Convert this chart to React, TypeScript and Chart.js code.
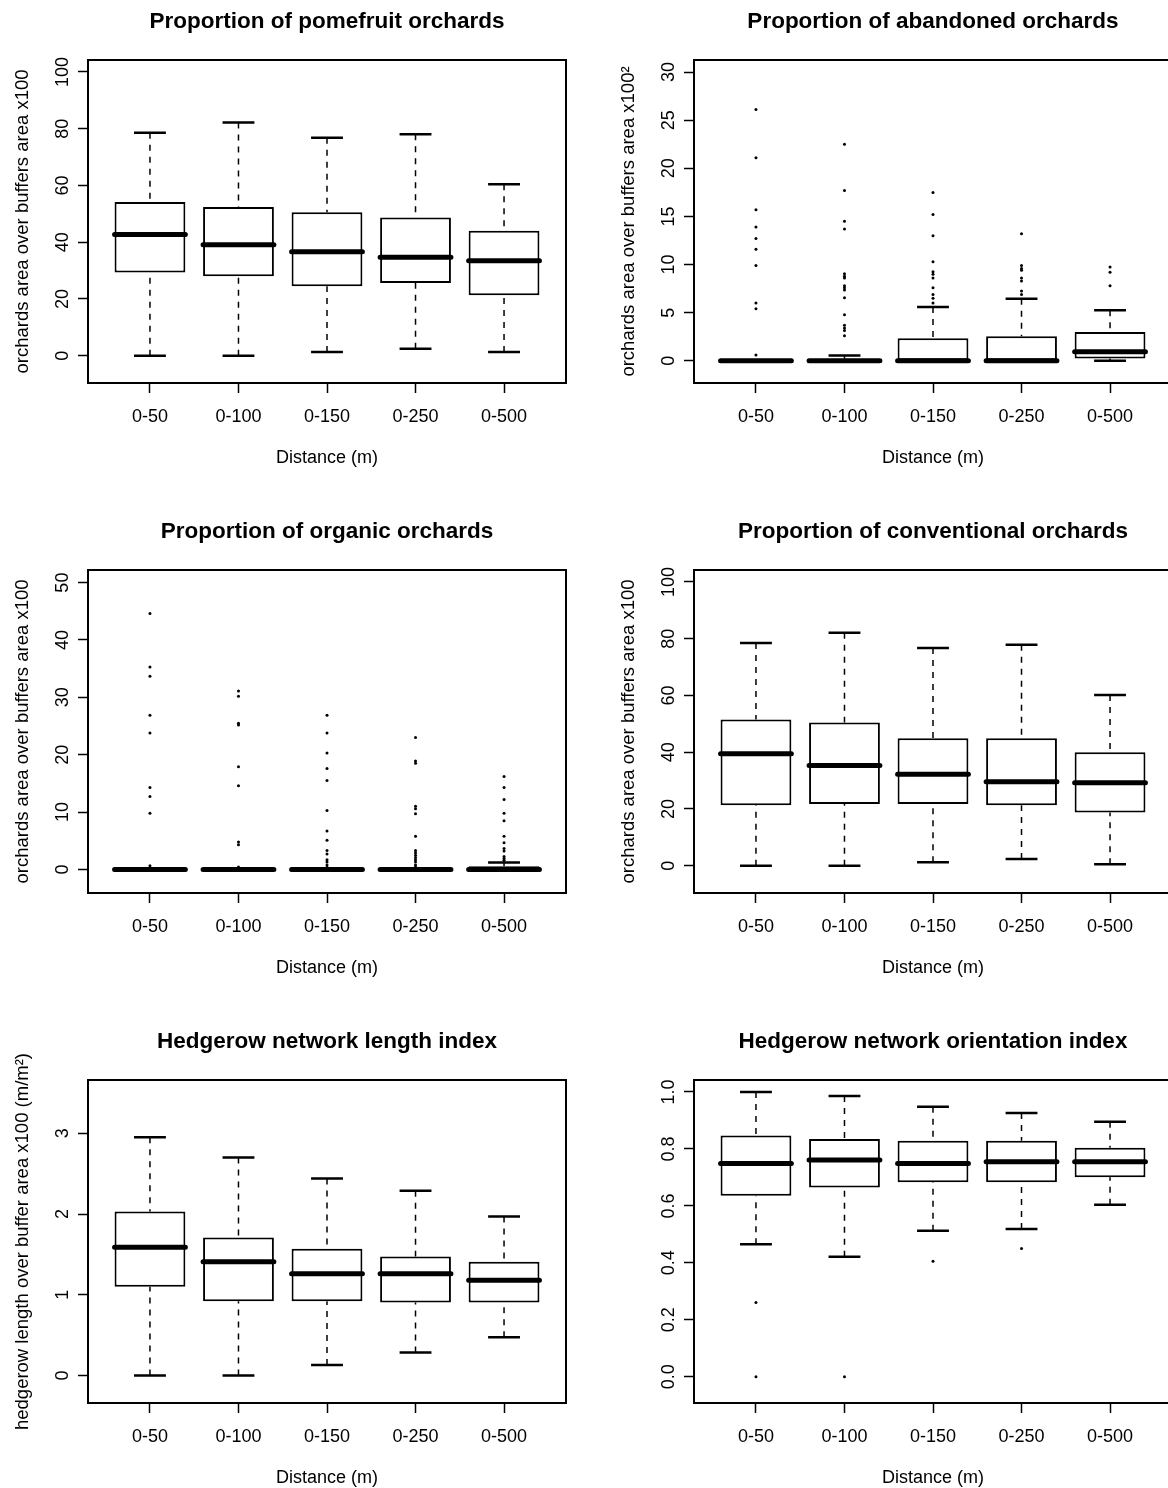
import React, { useEffect, useRef } from 'react';
import { Chart, registerables } from 'chart.js';

Chart.register(...registerables);

const FONT = "'Liberation Sans', Arial, Helvetica, sans-serif";

// ---------- shared categories ----------
const categories = ['0-50', '0-100', '0-150', '0-250', '0-500'];
const positions = [1, 2, 3, 4, 5];
const xAxisTitle = 'Distance (m)';

// ---------- Panel 1: pomefruit ----------
const pomeLow = [0, 0, 1.3, 2.5, 1.3];
const pomeQ1 = [29.3, 28.0, 24.5, 25.6, 21.3];
const pomeMed = [42.7, 39.1, 36.6, 34.7, 33.5];
const pomeQ3 = [54.2, 52.4, 50.6, 48.7, 44.0];
const pomeHigh = [78.6, 82.2, 76.8, 78.0, 60.4];
const pomeOut: number[][] = [[], [], [], [], []];

// ---------- Panel 2: abandoned ----------
const abLow = [0, 0, 0, 0, 0];
const abQ1 = [0, 0, 0, 0, 0.25];
const abMed = [0, 0, 0, 0, 0.95];
const abQ3 = [0, 0, 2.35, 2.55, 3.0];
const abHigh = [0, 0.55, 5.6, 6.45, 5.25];
const abOut: number[][] = [
  [26.1, 21.1, 15.7, 13.9, 12.7, 11.6, 9.9, 6.0, 5.4, 0.6],
  [22.5, 17.7, 14.5, 13.7, 9.05, 8.8, 8.6, 7.8, 7.6, 7.35, 6.55, 4.8, 3.7, 3.4, 3.15, 2.6],
  [17.5, 15.2, 13.0, 10.3, 9.25, 9.0, 8.6, 7.6, 6.9, 6.5, 6.0],
  [13.2, 9.9, 9.6, 9.4, 8.6, 8.3, 7.25, 6.9],
  [9.75, 9.2, 7.8],
];

// ---------- Panel 3: organic ----------
const orgLow = [0, 0, 0, 0, 0];
const orgQ1 = [0, 0, 0, 0, 0];
const orgMed = [0, 0, 0, 0, 0];
const orgQ3 = [0, 0, 0, 0, 0.55];
const orgHigh = [0, 0, 0, 0, 1.2];
const orgOut: number[][] = [
  [44.6, 35.3, 33.7, 26.9, 23.8, 14.3, 12.7, 9.8, 0.65],
  [31.1, 30.2, 25.5, 25.2, 17.9, 14.6, 4.8, 4.3, 0.45],
  [26.9, 23.8, 20.3, 17.6, 15.5, 10.3, 6.7, 5.1, 3.3, 2.7, 1.7, 1.3, 0.8, 0.4],
  [23.0, 18.9, 18.5, 11.0, 10.6, 9.7, 5.8, 3.3, 2.9, 2.5, 2.1, 1.7, 1.3, 0.8, 0.45],
  [16.2, 14.3, 12.2, 9.8, 8.5, 5.8, 4.65, 3.65, 3.2, 2.25, 1.9, 1.6],
];

// ---------- Panel 4: conventional ----------
const convLow = [0, 0, 1.2, 2.35, 0.5];
const convQ1 = [21.3, 21.8, 21.8, 21.3, 18.8];
const convMed = [39.5, 35.3, 32.2, 29.6, 29.2];
const convQ3 = [51.5, 50.5, 44.9, 44.9, 40.0];
const convHigh = [78.5, 82.1, 76.7, 77.9, 60.2];
const convOut: number[][] = [[], [], [], [], []];

// ---------- Panel 5: hedgerow length ----------
const lenLow = [0, 0, 0.13, 0.285, 0.475];
const lenQ1 = [1.1, 0.92, 0.92, 0.905, 0.905];
const lenMed = [1.59, 1.41, 1.26, 1.26, 1.18];
const lenQ3 = [2.03, 1.71, 1.57, 1.475, 1.41];
const lenHigh = [2.95, 2.7, 2.44, 2.29, 1.97];
const lenOut: number[][] = [[], [], [], [], []];

// ---------- Panel 6: hedgerow orientation ----------
const oriLow = [0.465, 0.4215, 0.513, 0.519, 0.604];
const oriQ1 = [0.636, 0.665, 0.683, 0.683, 0.701];
const oriMed = [0.749, 0.761, 0.749, 0.755, 0.755];
const oriQ3 = [0.847, 0.835, 0.829, 0.829, 0.804];
const oriHigh = [1.0, 0.986, 0.948, 0.926, 0.895];
const oriOut: number[][] = [[0.261, 0.0], [0.0], [0.406], [0.45], []];

// ---------- axis tick labels ----------
const ticksPct100 = [0, 20, 40, 60, 80, 100];
const ticksAbandoned = [0, 5, 10, 15, 20, 25, 30];
const ticksOrganic = [0, 10, 20, 30, 40, 50];
const ticksLength = [0, 1, 2, 3];
const ticksOrient = [0, 0.2, 0.4, 0.6, 0.8, 1.0];

type Spec = {
  title: string;
  yTitle: string;
  col: number;
  row: number;
  yMin: number;
  yMax: number;
  yTicks: number[];
  yDecimals: number;
  low: number[];
  q1: number[];
  med: number[];
  q3: number[];
  high: number[];
  outliers: number[][];
};

const specs: Spec[] = [
  { title: 'Proportion of pomefruit orchards', yTitle: 'orchards area over buffers area x100', col: 0, row: 0,
    yMin: -9.6, yMax: 104.2, yTicks: ticksPct100, yDecimals: 0,
    low: pomeLow, q1: pomeQ1, med: pomeMed, q3: pomeQ3, high: pomeHigh, outliers: pomeOut },
  { title: 'Proportion of abandoned orchards', yTitle: 'orchards area over buffers area x100\u00B2', col: 1, row: 0,
    yMin: -2.3, yMax: 31.25, yTicks: ticksAbandoned, yDecimals: 0,
    low: abLow, q1: abQ1, med: abMed, q3: abQ3, high: abHigh, outliers: abOut },
  { title: 'Proportion of organic orchards', yTitle: 'orchards area over buffers area x100', col: 0, row: 1,
    yMin: -4.1, yMax: 52.2, yTicks: ticksOrganic, yDecimals: 0,
    low: orgLow, q1: orgQ1, med: orgMed, q3: orgQ3, high: orgHigh, outliers: orgOut },
  { title: 'Proportion of conventional orchards', yTitle: 'orchards area over buffers area x100', col: 1, row: 1,
    yMin: -9.6, yMax: 104.2, yTicks: ticksPct100, yDecimals: 0,
    low: convLow, q1: convQ1, med: convMed, q3: convQ3, high: convHigh, outliers: convOut },
  { title: 'Hedgerow network length index', yTitle: 'hedgerow length over buffer area x100 (m/m\u00B2)', col: 0, row: 2,
    yMin: -0.34, yMax: 3.66, yTicks: ticksLength, yDecimals: 0,
    low: lenLow, q1: lenQ1, med: lenMed, q3: lenQ3, high: lenHigh, outliers: lenOut },
  { title: 'Hedgerow network orientation index', yTitle: '', col: 1, row: 2,
    yMin: -0.092, yMax: 1.042, yTicks: ticksOrient, yDecimals: 1,
    low: oriLow, q1: oriQ1, med: oriMed, q3: oriQ3, high: oriHigh, outliers: oriOut },
];

// ---------- layout (pixels) ----------
const COL_LEFT = [0, 584];
const CANVAS_W = [584, 600];
const PAD_LEFT = [0, 22];
const PAD_RIGHT = [18, 12];
const ROW_TOP = [0, 510, 1020];
const CANVAS_H = [510, 510, 469];
const PLOT_TOP = 60;
const PLOT_BOTTOM = 383;
const Y_AXIS_W = 88;
const X_AXIS_H = 86;
const Y_LABEL_GAP = 14.5;
const TITLE_SIZE = 22.5;
const TITLE_CENTER = 21.5;
const BOX_HALF = 0.4;
const CAP_HALF = 0.18;

const fmt = (v: number, d: number) => Number(v).toFixed(d);

function yTickPadding(spec: Spec): number {
  const ctx = document.createElement('canvas').getContext('2d');
  if (!ctx) return 0;
  ctx.font = `18px ${FONT}`;
  const widest = Math.max(...spec.yTicks.map((v) => ctx.measureText(fmt(v, spec.yDecimals)).width));
  return Y_LABEL_GAP - widest / 2;
}

const framePlugin = {
  id: 'frame',
  afterDatasetsDraw(chart: any) {
    const { ctx, chartArea: a } = chart;
    ctx.save();
    ctx.strokeStyle = '#000';
    ctx.lineWidth = 2;
    ctx.strokeRect(a.left, a.top, a.right - a.left, a.bottom - a.top);
    ctx.restore();
  },
};

function buildConfig(spec: Spec): any {
  const whiskers = positions.flatMap((x, i) => [
    { x, y: spec.low[i] }, { x, y: spec.q1[i] }, { x, y: null },
    { x, y: spec.high[i] }, { x, y: spec.q3[i] }, { x, y: null },
  ]);
  const caps = positions.flatMap((x, i) => [
    { x: x - CAP_HALF, y: spec.low[i] }, { x: x + CAP_HALF, y: spec.low[i] }, { x, y: null },
    { x: x - CAP_HALF, y: spec.high[i] }, { x: x + CAP_HALF, y: spec.high[i] }, { x, y: null },
  ]);
  const medians = positions.flatMap((x, i) => [
    { x: x - BOX_HALF, y: spec.med[i] }, { x: x + BOX_HALF, y: spec.med[i] }, { x, y: null },
  ]);
  const boxes = positions.map((x, i) => ({ x, y: [spec.q1[i], spec.q3[i]] }));
  const outs = positions.flatMap((x, i) => spec.outliers[i].map((v) => ({ x, y: v })));

  const H = CANVAS_H[spec.row];
  const lineBase = { type: 'line', pointRadius: 0, fill: false, tension: 0, spanGaps: false, borderColor: '#000' };

  const gridOpts = {
    display: true,
    drawOnChartArea: false,
    drawTicks: true,
    tickLength: 10,
    tickWidth: 1.5,
    tickColor: '#000',
    color: '#000',
    offset: false,
  };

  return {
    type: 'bar',
    data: {
      datasets: [
        { ...lineBase, label: 'outliers', type: 'scatter', data: outs, order: 0, showLine: false,
          pointRadius: 1.5, pointBackgroundColor: '#000', pointBorderWidth: 0, pointBorderColor: '#000' },
        { ...lineBase, label: 'median', data: medians, order: 1, borderWidth: 5, borderCapStyle: 'round' },
        { label: 'box', type: 'bar', data: boxes, order: 2, backgroundColor: '#fff', borderColor: '#000',
          borderWidth: 2, borderSkipped: false, barPercentage: 0.8, categoryPercentage: 1.0 },
        { ...lineBase, label: 'caps', data: caps, order: 3, borderWidth: 2.5 },
        { ...lineBase, label: 'whiskers', data: whiskers, order: 4, borderWidth: 1.5, borderDash: [6, 6] },
      ],
    },
    options: {
      responsive: false,
      maintainAspectRatio: false,
      devicePixelRatio: 1,
      animation: false,
      events: [],
      layout: {
        padding: {
          left: PAD_LEFT[spec.col],
          right: PAD_RIGHT[spec.col],
          top: 0,
          bottom: Math.max(0, H - PLOT_BOTTOM - X_AXIS_H),
        },
      },
      plugins: {
        legend: { display: false },
        tooltip: { enabled: false },
        title: {
          display: true,
          text: spec.title,
          fullSize: false,
          color: '#000',
          font: { family: FONT, size: TITLE_SIZE, weight: 'bold', lineHeight: 1.2 },
          padding: {
            top: TITLE_CENTER - (TITLE_SIZE * 1.2) / 2,
            bottom: PLOT_TOP - TITLE_CENTER - (TITLE_SIZE * 1.2) / 2,
          },
        },
      },
      scales: {
        x: {
          type: 'linear',
          min: 0.3,
          max: 5.7,
          offset: false,
          bounds: 'data',
          afterBuildTicks: (s: any) => { s.ticks = positions.map((v) => ({ value: v })); },
          afterFit: (s: any) => { s.height = X_AXIS_H; },
          ticks: {
            autoSkip: false,
            maxRotation: 0,
            minRotation: 0,
            padding: 13,
            color: '#000',
            font: { family: FONT, size: 18 },
            callback: (v: any) => categories[Math.round(Number(v)) - 1],
          },
          grid: gridOpts,
          border: { display: false },
          title: {
            display: true,
            text: xAxisTitle,
            color: '#000',
            font: { family: FONT, size: 18 },
            padding: { top: 0, bottom: 0 },
          },
        },
        y: {
          type: 'linear',
          min: spec.yMin,
          max: spec.yMax,
          bounds: 'data',
          beginAtZero: false,
          afterBuildTicks: (s: any) => { s.ticks = spec.yTicks.map((v) => ({ value: v })); },
          afterFit: (s: any) => { s.width = Y_AXIS_W; },
          ticks: {
            autoSkip: false,
            minRotation: 90,
            maxRotation: 90,
            crossAlign: 'center',
            padding: yTickPadding(spec),
            color: '#000',
            font: { family: FONT, size: 18 },
            callback: (v: any) => fmt(Number(v), spec.yDecimals),
          },
          grid: gridOpts,
          border: { display: false },
          title: {
            display: spec.yTitle !== '',
            text: spec.yTitle,
            color: '#000',
            font: { family: FONT, size: 18.5 },
            padding: { top: 12, bottom: 0 },
          },
        },
      },
    },
    plugins: [framePlugin],
  };
}

function BoxPanel({ spec }: { spec: Spec }) {
  const ref = useRef<HTMLCanvasElement | null>(null);
  const w = CANVAS_W[spec.col];
  const h = CANVAS_H[spec.row];
  useEffect(() => {
    if (!ref.current) return;
    const chart = new Chart(ref.current, buildConfig(spec));
    return () => chart.destroy();
  }, [spec]);
  return (
    <canvas
      ref={ref}
      width={w}
      height={h}
      style={{ position: 'absolute', left: COL_LEFT[spec.col], top: ROW_TOP[spec.row], width: w, height: h }}
    />
  );
}

export default function App() {
  return (
    <div
      style={{
        position: 'absolute',
        left: 0,
        top: 0,
        width: 1168,
        height: 1488,
        overflow: 'hidden',
        background: '#fff',
      }}
    >
      {specs.map((s, i) => (
        <BoxPanel key={i} spec={s} />
      ))}
    </div>
  );
}
